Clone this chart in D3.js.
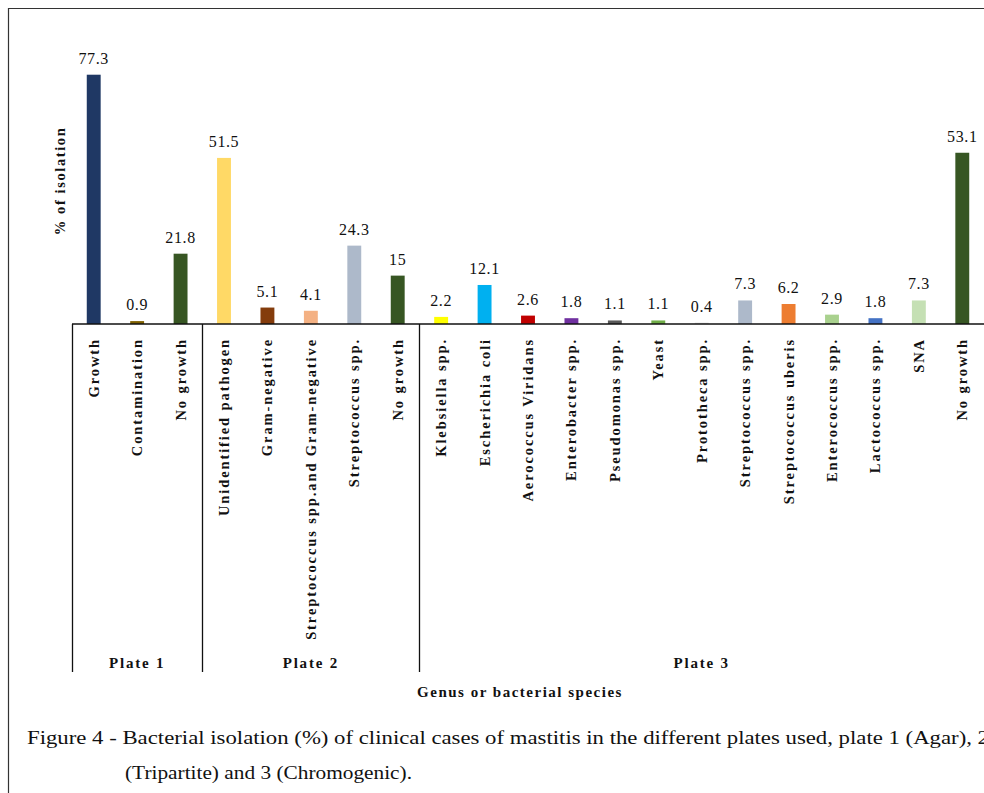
<!DOCTYPE html>
<html>
<head>
<meta charset="utf-8">
<script src="https://cdn.jsdelivr.net/npm/d3@7"></script>
<style>
  body { margin: 0; background: #fff; }
  svg { display: block; font-family: "Liberation Serif", "Times New Roman", serif; }
</style>
</head>
<body>
<svg id="canvas"></svg>
<script>
// data
const categories = ['Growth', 'Contamination', 'No growth',
  'Unidentified pathogen', 'Gram-negative', 'Streptococcus spp.and Gram-negative', 'Streptococcus spp.', 'No growth',
  'Klebsiella spp.', 'Escherichia coli', 'Aerococcus Viridans', 'Enterobacter spp.', 'Pseudomonas spp.', 'Yeast',
  'Prototheca spp.', 'Streptococcus spp.', 'Streptococcus uberis', 'Enterococcus spp.', 'Lactococcus spp.', 'SNA', 'No growth']
const values = [77.3, 0.9, 21.8, 51.5, 5.1, 4.1, 24.3, 15, 2.2, 12.1, 2.6, 1.8, 1.1, 1.1, 0.4, 7.3, 6.2, 2.9, 1.8, 7.3, 53.1]
const valueLabels = ['77.3', '0.9', '21.8', '51.5', '5.1', '4.1', '24.3', '15', '2.2', '12.1', '2.6', '1.8', '1.1', '1.1', '0.4', '7.3', '6.2', '2.9', '1.8', '7.3', '53.1']
const colors = ['#1f3864', '#7f6000', '#375623', '#ffd966', '#843c0c', '#f4b183', '#adb9ca', '#375623',
  '#ffff00', '#00b0f0', '#c00000', '#7030a0', '#595959', '#70ad47', '#d9d9d9', '#adb9ca', '#ed7d31',
  '#a9d18e', '#4472c4', '#c5e0b4', '#375623']
const plates = ['Plate 1', 'Plate 2', 'Plate 3']
const plateSizes = [3, 5, 13]

let w = 984
let h = 793
let x0 = 72, x1 = 984
let base = 324

let canvas = d3.select('#canvas').attr('width', w).attr('height', h)

let idx = d3.range(categories.length)

let xScale = d3.scaleBand()
  .domain(idx)
  .range([x0, x1])
  .paddingInner(0.68)
  .paddingOuter(0.34)

let yScale = d3.scaleLinear()
  .domain([0, 80])
  .range([base, 66])

// outer frame
canvas.append('path')
  .attr('d', `M8.5,${h} V8.5 H${w}`)
  .attr('fill', 'none')
  .attr('stroke', '#333')
  .attr('stroke-width', 1.2)

// bars
canvas.selectAll('rect.bar')
  .data(idx)
  .enter()
  .append('rect')
  .attr('class', 'bar')
  .attr('x', i => xScale(i))
  .attr('width', xScale.bandwidth())
  .attr('y', i => yScale(values[i]))
  .attr('height', i => base - yScale(values[i]))
  .attr('fill', i => colors[i])

// value labels
canvas.selectAll('text.val')
  .data(idx)
  .enter()
  .append('text')
  .attr('class', 'val')
  .attr('x', i => xScale(i) + xScale.bandwidth() / 2)
  .attr('y', i => yScale(values[i]) - 11)
  .attr('text-anchor', 'middle')
  .attr('font-size', 16)
  .attr('letter-spacing', 0.6)
  .attr('fill', '#111')
  .text(i => valueLabels[i])

// baseline
canvas.append('line')
  .attr('x1', x0).attr('x2', x1)
  .attr('y1', base).attr('y2', base)
  .attr('stroke', '#111').attr('stroke-width', 1.3)

// category labels, rotated
canvas.selectAll('text.cat')
  .data(idx)
  .enter()
  .append('text')
  .attr('class', 'cat')
  .attr('transform', i => `translate(${xScale(i) + xScale.bandwidth() / 2 + 5},${base + 14}) rotate(-90)`)
  .attr('text-anchor', 'end')
  .attr('font-size', 14.5)
  .attr('font-weight', 'bold')
  .attr('letter-spacing', 1.9)
  .attr('fill', '#111')
  .text(i => categories[i])

// plate group separators and names
let starts = [0]
plateSizes.forEach((s, k) => starts.push(starts[k] + s))
let step = xScale.step()
let edge = k => k < categories.length ? xScale(k) - xScale.paddingInner() * step / 2 : x1

canvas.selectAll('line.sep')
  .data(starts.slice(0, 3))
  .enter()
  .append('line')
  .attr('class', 'sep')
  .attr('x1', k => Math.round(edge(k)) + 0.5)
  .attr('x2', k => Math.round(edge(k)) + 0.5)
  .attr('y1', base).attr('y2', 672)
  .attr('stroke', '#111').attr('stroke-width', 1.3)

canvas.selectAll('text.plate')
  .data(plates)
  .enter()
  .append('text')
  .attr('class', 'plate')
  .attr('x', (d, k) => (edge(starts[k]) + edge(starts[k + 1])) / 2)
  .attr('y', 668)
  .attr('text-anchor', 'middle')
  .attr('font-size', 15)
  .attr('font-weight', 'bold')
  .attr('letter-spacing', 1.8)
  .attr('fill', '#111')
  .text(d => d)

// axis titles
canvas.append('text')
  .attr('x', 520).attr('y', 697)
  .attr('text-anchor', 'middle')
  .attr('font-size', 15)
  .attr('font-weight', 'bold')
  .attr('letter-spacing', 1.5)
  .attr('fill', '#111')
  .text('Genus or bacterial species')

canvas.append('text')
  .attr('transform', 'translate(65,181) rotate(-90)')
  .attr('text-anchor', 'middle')
  .attr('font-size', 14.5)
  .attr('font-weight', 'bold')
  .attr('letter-spacing', 1.6)
  .attr('fill', '#111')
  .text('% of isolation')

// caption
canvas.append('text')
  .attr('x', 27).attr('y', 744)
  .attr('font-size', 18)
  .attr('fill', '#111')
  .attr('textLength', 962)
  .attr('lengthAdjust', 'spacingAndGlyphs')
  .text('Figure 4 - Bacterial isolation (%) of clinical cases of mastitis in the different plates used, plate 1 (Agar), 2')

canvas.append('text')
  .attr('x', 125).attr('y', 779)
  .attr('font-size', 18)
  .attr('fill', '#111')
  .attr('textLength', 287)
  .attr('lengthAdjust', 'spacingAndGlyphs')
  .text('(Tripartite) and 3 (Chromogenic).')
</script>
</body>
</html>
